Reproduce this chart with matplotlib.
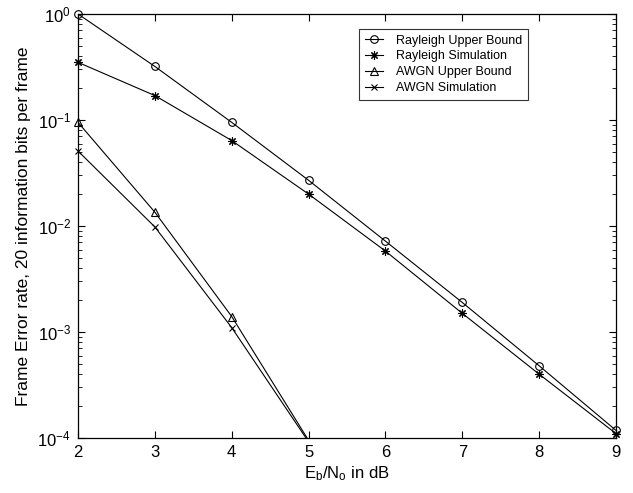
import matplotlib
matplotlib.use("Agg")
import matplotlib.pyplot as plt
from matplotlib.lines import Line2D
from matplotlib.ticker import LogLocator, NullFormatter
import numpy as np

plt.rcParams['font.family'] = ['Liberation Sans', 'DejaVu Sans']
plt.rcParams['mathtext.fontset'] = 'custom'
plt.rcParams['mathtext.rm'] = 'Liberation Sans'
plt.rcParams['mathtext.it'] = 'Liberation Sans'

ebno_db = [2, 3, 4, 5, 6, 7, 8, 9]
rayleigh_ub = [1.0, 0.32, 0.095, 0.027, 0.0072, 0.0019, 0.00048, 0.000118]
rayleigh_sim = [0.35, 0.17, 0.064, 0.020, 0.0058, 0.0015, 0.00040, 0.000110]
awgn_x = [2, 3, 4, 5]
awgn_ub = [0.095, 0.0135, 0.0014, 0.000095]
awgn_sim = [0.051, 0.0098, 0.0011, 0.000092]

labels = ['Rayleigh Upper Bound', 'Rayleigh Simulation', 'AWGN Upper Bound', 'AWGN Simulation']
markers = ['o', (8, 2, 0), '^', 'x']
msizes = [5.5, 6, 6, 5]

fig = plt.figure(figsize=(6.33, 4.93), dpi=100)
ax = fig.add_axes([78/633, 1-438/493, (616-78)/633, (438-14)/493])

series = [(ebno_db, rayleigh_ub), (ebno_db, rayleigh_sim), (awgn_x, awgn_ub), (awgn_x, awgn_sim)]
handles = []
for (xs, ys), m, ms, lab in zip(series, markers, msizes, labels):
    xs = np.array(xs, float); ys = np.array(ys, float)
    ax.plot(xs, ys, color='black', lw=0.8)
    keep = ys >= 1e-4 * 0.999
    ax.plot(xs[keep], ys[keep], linestyle='none', marker=m, ms=ms, mfc='none',
            mec='black', mew=0.8, clip_on=False, zorder=5)
    handles.append(Line2D([], [], color='black', lw=0.8, marker=m, ms=ms, mfc='none',
                          mec='black', mew=0.8, label=lab))

ax.set_yscale('log')
ax.set_xlim(2, 9)
ax.set_ylim(1e-4, 1)
ax.set_xticks(ebno_db)
ax.yaxis.set_major_locator(LogLocator(base=10, numticks=10))
ax.yaxis.set_minor_locator(LogLocator(base=10, subs=np.arange(2, 10), numticks=10))
ax.yaxis.set_minor_formatter(NullFormatter())
ax.tick_params(which='both', direction='in', top=True, right=True, labelsize=12)
ax.tick_params(which='major', length=5, width=0.8, pad=5)
ax.tick_params(which='minor', length=3, width=0.6)
for s in ax.spines.values():
    s.set_linewidth(0.9)

ax.set_xlabel(r'E$_\mathregular{b}$/N$_\mathregular{o}$ in dB', fontsize=12, labelpad=3)
ax.set_ylabel('Frame Error rate, 20 information bits per frame', fontsize=12.5, labelpad=5)

leg = ax.legend(handles=handles, loc='upper left', bbox_to_anchor=((359-78)/538, 1-(29-14)/424),
                fontsize=9, frameon=True, fancybox=False, edgecolor='black',
                handlelength=1.45, handletextpad=1.1, borderpad=0.45, labelspacing=0.3,
                borderaxespad=0)
leg.get_frame().set_linewidth(0.8)

fig.savefig('out.png', dpi=100)
